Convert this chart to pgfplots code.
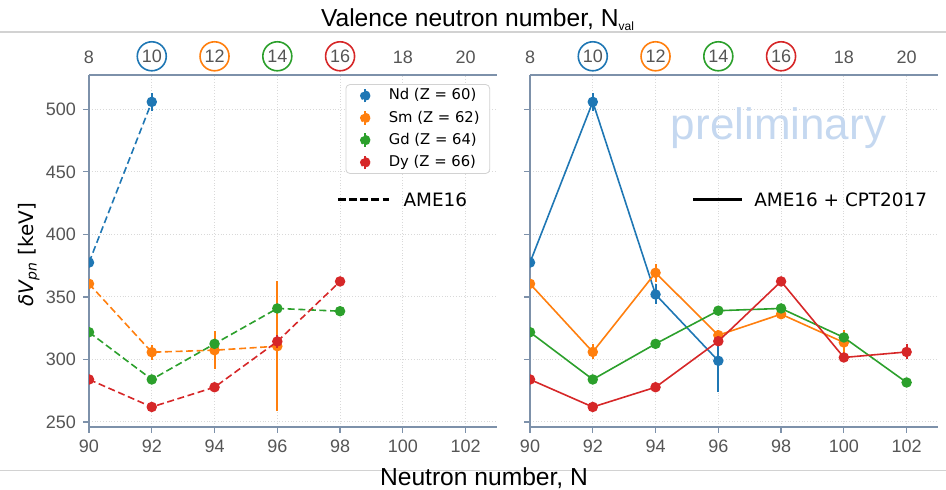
\documentclass[border=0pt]{standalone}
\usepackage{pgfplots}
\pgfplotsset{compat=1.18}
\usepackage{fontspec}
\setmainfont{Liberation Sans}
\newfontfamily\dejavu{DejaVu Sans}
\definecolor{c1}{HTML}{1F77B4}
\definecolor{c2}{HTML}{FF7F0E}
\definecolor{c3}{HTML}{2CA02C}
\definecolor{c4}{HTML}{D62728}
\definecolor{axcol}{HTML}{7D91AA}
\definecolor{tickgray}{HTML}{555555}
\definecolor{prelim}{HTML}{C5D8F0}
\newcommand\cir[2]{\tikz[baseline=(n.base)]\node[circle,draw=#1,line width=0.8pt,minimum size=14.5pt,inner sep=0pt,text=tickgray](n){#2};}
\pgfplotsset{
  base/.style={
    scale only axis, width=204pt, height=176pt,
    xmin=90, xmax=103, ymin=246, ymax=527.5,
    xtick={90,92,...,102}, ytick={250,300,...,500},
    axis x line*=bottom, axis y line*=left,
    axis line style={-, draw=axcol, line width=0.8pt},
    tick style={draw=axcol, line width=0.6pt},
    tick align=outside, major tick length=3pt,
    grid=major, grid style={densely dotted, gray!30, line width=0.5pt},
    tick label style={font=\fontsize{9}{10}\selectfont, text=tickgray},
    /pgf/number format/assume math mode=true,
    clip marker paths=true,
    every axis plot/.append style={line width=0.8pt, mark=*, mark size=2.2pt},
  },
  topax/.style={
    scale only axis, width=204pt, height=176pt,
    xmin=8, xmax=21, ymin=0, ymax=1,
    axis x line*=top, hide y axis,
    axis line style={-, draw=axcol, line width=0.8pt},
    xtick={8,10,...,20},
    xticklabels={\cir{none}{8},\cir{c1}{10},\cir{c2}{12},\cir{c3}{14},\cir{c4}{16},\cir{none}{18},\cir{none}{20}},
    tick style={draw=axcol}, major tick length=0pt,
    xticklabel style={font=\fontsize{9}{10}\selectfont, inner sep=0pt, yshift=1.5pt},
  },
  dsh/.style={dash pattern=on 3.5pt off 1.8pt},
  eb/.style={error bars/.cd, y dir=both, y explicit, error mark=none, error bar style={line width=1pt, solid}},
}
\begin{document}
\begin{tikzpicture}
\path[use as bounding box] (0,0) rectangle (473pt,245pt);
\draw[gray!35, line width=0.6pt] (0,229pt) -- (473pt,229pt);
\draw[gray!35, line width=0.6pt] (0,9.65pt) -- (473pt,9.65pt);
\node[anchor=base, font=\fontsize{12.3}{14}\selectfont] at (239pt,231.5pt) {Valence neutron number, N\textsubscript{\fontsize{6}{7}\selectfont val}};
\node[anchor=base, font=\fontsize{12.3}{14}\selectfont] at (242pt,2.4pt) {Neutron number, N};

% left panel: AME16
\begin{axis}[base, at={(44.5pt,31.5pt)}, anchor=south west,
  ylabel={{\itshape δV\textsubscript{pn}} [keV]},
  every axis y label/.style={at={(axis description cs:-0.147,0.489)}, rotate=90, anchor=center, font=\dejavu\fontsize{10}{12}\selectfont},
  legend style={at={(0.983,0.974)}, anchor=north east, draw=gray!35, rounded corners=2pt,
    font=\dejavu\fontsize{7.4}{9}\selectfont, row sep=0pt, inner xsep=3pt, inner ysep=0pt,
    cells={anchor=west}},
  legend cell align=left,
  legend image code/.code={\draw[solid,line width=1pt] (0.12cm,-0.12cm) -- (0.12cm,0.12cm); \fill (0.12cm,0cm) circle (2.2pt); \path (-0.1cm,0) (0.45cm,0);},
]
\addplot[c1, dsh, mark options={solid}, eb] coordinates {(90,377.5) +- (0,2) (92,506) +- (0,7)};
\addplot[c2, dsh, mark options={solid}, eb] coordinates {(90,360.5) +- (0,2) (92,305.8) +- (0,6) (94,307.4) +- (0,15) (96,310.6) +- (0,52)};
\addplot[c3, dsh, mark options={solid}, eb] coordinates {(90,321.8) +- (0,1) (92,284) +- (0,1) (94,312.5) +- (0,1) (96,340.8) +- (0,1) (98,338.6) +- (0,1)};
\addplot[c4, dsh, mark options={solid}, eb] coordinates {(90,284) +- (0,1) (92,262) +- (0,1) (94,277.8) +- (0,2) (96,314.4) +- (0,5) (98,362.4) +- (0,1)};
\legend{Nd (Z = 60), Sm (Z = 62), Gd (Z = 64), Dy (Z = 66)}
\draw[black, line width=1.5pt, dash pattern=on 4pt off 1.6pt] (axis description cs:0.610,0.645) -- (axis description cs:0.735,0.645);
\node[anchor=west, font=\dejavu\fontsize{9.2}{11}\selectfont, inner sep=0pt] at (axis description cs:0.770,0.645) {AME16};
\end{axis}
\begin{axis}[topax, at={(44.5pt,31.5pt)}, anchor=south west]
\end{axis}

% right panel: AME16 + CPT2017
\begin{axis}[base, at={(265pt,31.5pt)}, anchor=south west, yticklabels={}]
\addplot[c1, eb] coordinates {(90,377.5) +- (0,2) (92,506) +- (0,7) (94,352) +- (0,8) (96,298.9) +- (0,25)};
\addplot[c2, eb] coordinates {(90,360.5) +- (0,2) (92,306) +- (0,6) (94,369.3) +- (0,7) (96,319.4) +- (0,4) (98,336.2) +- (0,2) (100,313.6) +- (0,10)};
\addplot[c3, eb] coordinates {(90,321.8) +- (0,1) (92,284) +- (0,1) (94,312.5) +- (0,1) (96,339) +- (0,1) (98,340.8) +- (0,1) (100,317.6) +- (0,3) (102,281.6) +- (0,1)};
\addplot[c4, eb] coordinates {(90,284) +- (0,1) (92,262) +- (0,1) (94,277.8) +- (0,2) (96,314.6) +- (0,4) (98,362.4) +- (0,1) (100,301.6) +- (0,2) (102,306) +- (0,6)};
\draw[black, line width=1.5pt] (axis description cs:0.3995,0.645) -- (axis description cs:0.52,0.645);
\node[anchor=west, font=\dejavu\fontsize{9.2}{11}\selectfont, inner sep=0pt] at (axis description cs:0.549,0.645) {AME16 + CPT2017};
\node[anchor=base, text=prelim, font=\fontsize{22}{26}\selectfont, inner sep=0pt] at (axis description cs:0.609,0.817) {preliminary};
\end{axis}
\begin{axis}[topax, at={(265pt,31.5pt)}, anchor=south west]
\end{axis}
\end{tikzpicture}
\end{document}
